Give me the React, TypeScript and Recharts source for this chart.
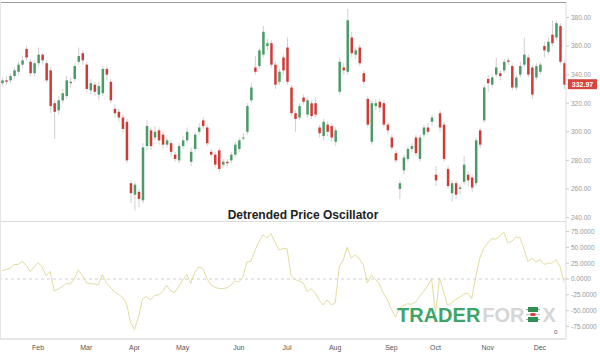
import React from "react";
import { ComposedChart, Bar, XAxis, YAxis, LineChart, Line, ReferenceLine } from "recharts";

// ---- price data (one candle per slot, left to right) ----
const openP = [334,336,336,339,342,347,358,349,341,348,354,348,343,320,315,322,325,334,337,349,355,347,329,333,326,327,344,335,316,314,310,307,264,256,258,252,290,301,296,301,298,291,292,284,280,290,294,279,288,300,308,303,286,284,287,277,279,280,284,288,296,300,322,345,346,354,360,362,347,335,352,359,331,313,310,324,312,320,320,303,297,305,304,293,328,345,342,366,354,359,341,323,293,318,321,320,305,296,285,260,273,281,288,296,281,298,303,307,270,313,305,274,257,264,260,265,270,268,264,301,308,337,333,340,341,343,350,346,331,340,347,352,345,338,342,360,356,368,366,374,348];
const closeP = [336,335,339,343,347,350,352,341,348,354,350,336,318,314,322,327,336,335,346,353,350,330,334,328,332,344,340,322,313,310,302,280,257,263,253,289,304,290,300,294,291,294,286,281,290,294,300,286,298,303,304,292,284,277,274,279,278,284,291,294,296,318,331,342,357,370,362,347,333,342,343,335,313,309,318,321,322,311,312,299,307,300,296,301,349,343,378,355,357,348,335,305,320,320,317,305,301,289,280,264,282,288,290,285,296,303,300,310,266,303,281,262,264,256,261,277,266,261,294,291,331,334,338,345,339,349,349,331,338,346,354,340,326,346,347,357,363,362,376,349,332.97];
const highP = [338,339,341,345,349,353,360,351,350,359,355,350,345,322,325,330,339,338,348,359,357,349,337,335,335,346,346,337,319,316,312,309,266,265,260,292,308,303,304,303,300,296,294,286,292,297,303,289,300,306,310,305,288,286,289,281,281,286,293,296,299,320,334,353,359,374,365,364,349,344,354,366,333,315,320,326,324,322,324,305,309,307,306,303,352,348,386,370,359,361,343,325,322,323,323,322,307,298,287,266,284,290,292,298,298,305,306,312,276,315,307,276,266,266,263,283,272,270,296,303,333,340,340,352,343,351,352,348,340,349,366,354,347,348,349,363,366,378,378,376,350];
const lowP = [332,333,334,337,340,345,350,339,339,346,347,334,313,295,312,320,323,331,335,347,347,328,326,325,322,325,336,320,310,307,299,278,250,245,247,250,287,287,294,291,288,289,283,279,278,288,292,276,286,298,302,290,282,275,272,275,276,278,282,286,294,298,320,340,344,352,357,345,330,333,340,333,311,300,308,319,310,309,310,296,294,297,293,290,326,340,340,352,351,346,333,303,291,315,314,303,298,287,278,253,270,279,286,283,279,296,298,304,262,300,279,260,251,253,256,263,262,258,262,289,306,328,331,338,336,341,347,329,329,338,345,338,323,336,340,352,354,360,364,347,330];

// ---- Detrended Price Oscillator values (same slots) ----
const dpo = [13,15,17,23,23,28,22,12,19,26,19,5,12,-19,-16,-12,-7,-8,0,14,6,-6,-7,-8,-9,7,-6,-13,-20,-24,-29,-38,-68,-80,-60,-31,-28,-33,-26,-25,-20,-10,-19,-21,-12,-2,7,-7,10,19,17,1,-9,-13,-15,-15,-14,-10,-3,-5,3,27,28,45,59,70,65,72,58,46,48,48,6,-1,-3,-6,-20,-15,-22,-33,-41,-33,-41,-38,19,30,50,33,38,32,23,-6,6,0,-8,-22,-33,-48,-60,-46,-42,-39,-40,-37,-28,-20,-11,1,-54,2,-20,-42,-38,-32,-29,-24,-22,-31,3,33,48,57,64,63,68,74,57,60,66,66,48,28,33,27,31,23,25,25,31,20,-5];

// ---- axis tick labels ----
const monthIdx = [9, 21, 33, 45, 59, 71, 83, 97, 108, 121, 134];
const monthLabels = ["Feb", "Mar", "Apr", "May", "Jun", "Jul", "Aug", "Sep", "Oct", "Nov", "Dec"];
const priceTicks = [240, 260, 280, 300, 320, 340, 360, 380];
const dpoTicks = [-75, -50, -25, 0, 25, 50, 75];

const N = closeP.length;
const rows = closeP.map((c, i) => ({ i, o: openP[i], c, h: highP[i], l: lowP[i] }));
const dpoRows = dpo.map((v, i) => ({ i, v }));
const lastClose = closeP[N - 1];

const GREEN = "#4c9a68";
const RED = "#d13b36";
const AXIS_FONT = { fontSize: 6.5, fill: "#999", fontFamily: "Liberation Sans, Arial, sans-serif" };

const Candle = (props: any) => {
  const { x, y, width, height, payload } = props;
  if (x == null || y == null || !payload) return null;
  const top = Math.min(y, y + height);
  const bot = Math.max(y, y + height);
  const { o, c, h, l } = payload;
  const ppu = h - l > 0 ? (bot - top) / (h - l) : 0;
  const cx = x + width / 2;
  const yO = top + (h - o) * ppu;
  const yC = top + (h - c) * ppu;
  const bt = Math.min(yO, yC);
  const bh = Math.max(1, Math.abs(yO - yC));
  return (
    <g>
      <line x1={cx} x2={cx} y1={top} y2={bot} stroke="#c4c4c4" strokeWidth={0.8} />
      <rect x={cx - 1.25} y={bt} width={2.5} height={bh} fill={c >= o ? GREEN : RED} />
    </g>
  );
};

const PriceTag = (props: any) => {
  const vb = props.viewBox;
  if (!vb) return null;
  const right = vb.x + vb.width;
  return (
    <g>
      <rect x={right + 2} y={vb.y - 5.5} width={29} height={10} fill="#d6463f" />
      <text x={right + 16.5} y={vb.y + 2.3} textAnchor="middle" fill="#fff" fontSize={7} fontWeight="bold" fontFamily="Liberation Sans, Arial, sans-serif">
        {lastClose.toFixed(2)}
      </text>
    </g>
  );
};

export default function App() {
  return (
    <div style={{ position: "absolute", left: 0, top: 0, width: 600, height: 353, background: "#fff", overflow: "hidden" }}>
      <div style={{ position: "absolute", left: 0, top: 0 }}>
        <ComposedChart width={600} height={221} data={rows} margin={{ top: 2, right: 0, bottom: 0, left: 0 }}>
          <XAxis dataKey="i" type="category" hide />
          <YAxis
            orientation="right"
            width={34}
            domain={[237.55, 390.85]}
            ticks={priceTicks}
            tickFormatter={(v: number) => v.toFixed(2)}
            tick={AXIS_FONT}
            tickSize={3}
            tickLine={{ stroke: "#ccc" }}
            axisLine={{ stroke: "#ddd" }}
            allowDataOverflow
          />
          <Bar dataKey={(d: any) => [d.l, d.h]} barSize={3} shape={Candle} isAnimationActive={false} />
          <ReferenceLine y={lastClose} stroke="none" ifOverflow="visible" label={<PriceTag />} />
        </ComposedChart>
      </div>
      <div style={{ position: "absolute", left: 0, top: 221 }}>
        <LineChart width={600} height={132} data={dpoRows} margin={{ top: 0, right: 0, bottom: 0, left: 0 }}>
          <XAxis
            dataKey="i"
            type="number"
            domain={[-0.5, N - 0.5]}
            ticks={monthIdx}
            tickFormatter={(v: number) => monthLabels[monthIdx.indexOf(v)] ?? ""}
            tick={{ fontSize: 7, fill: "#555", fontFamily: "Liberation Sans, Arial, sans-serif" }}
            tickLine={false}
            tickSize={4}
            height={14}
            axisLine={{ stroke: "#ccc" }}
            allowDataOverflow
          />
          <YAxis
            orientation="right"
            width={34}
            domain={[-94.9, 91.8]}
            ticks={dpoTicks}
            tickFormatter={(v: number) => v.toFixed(4)}
            tick={AXIS_FONT}
            tickSize={3}
            tickLine={{ stroke: "#ccc" }}
            axisLine={{ stroke: "#ddd" }}
            allowDataOverflow
          />
          <ReferenceLine y={0} stroke="#d0d0d0" strokeDasharray="3 3" />
          <Line type="linear" dataKey="v" stroke="#e3dc9f" strokeWidth={1} dot={false} isAnimationActive={false} />
        </LineChart>
      </div>
      {/* frame lines */}
      <div style={{ position: "absolute", left: 0, top: 2, width: 566, height: 1, background: "#999" }} />
      <div style={{ position: "absolute", left: 0, top: 221, width: 566, height: 1, background: "#ddd" }} />
      <div style={{ position: "absolute", left: 0, top: 2, width: 1, height: 337, background: "#e6e6e6" }} />
      {/* title */}
      <div style={{ position: "absolute", left: 203, top: 209, width: 200, textAlign: "center", fontFamily: "Liberation Sans, Arial, sans-serif", fontWeight: "bold", fontSize: 12, lineHeight: "12px", color: "#222" }}>
        Detrended Price Oscillator
      </div>
      {/* watermark */}
      <div style={{ position: "absolute", left: 397, top: 305, fontFamily: "Liberation Sans, Arial, sans-serif", fontWeight: "bold", fontSize: 20, lineHeight: "20px", whiteSpace: "nowrap" }}>
        <span style={{ color: "#3ea468" }}>TRADER</span>
        <span style={{ color: "#d6d6d6", marginLeft: 2 }}>FOR</span>
        <span style={{ display: "inline-block", width: 13, marginLeft: 3, marginRight: 2 }} />
        <span style={{ color: "#d6d6d6" }}>X</span>
      </div>
      <svg style={{ position: "absolute", left: 526, top: 306 }} width={15} height={17}>
        <line x1={0} x2={14} y1={3.5} y2={3.5} stroke="#555" strokeWidth={0.6} />
        <rect x={2} y={1} width={10} height={5} fill="#2f8f52" />
        <line x1={0} x2={14} y1={8.5} y2={8.5} stroke="#999" strokeWidth={0.6} />
        <rect x={4.5} y={7} width={5} height={3} fill="#e0413b" />
        <line x1={0} x2={14} y1={13.5} y2={13.5} stroke="#555" strokeWidth={0.6} />
        <rect x={2} y={11} width={10} height={5} fill="#2f8f52" />
      </svg>
      <div style={{ position: "absolute", left: 554, top: 329, fontFamily: "Liberation Sans, Arial, sans-serif", fontSize: 6, color: "#555" }}>0</div>
    </div>
  );
}
